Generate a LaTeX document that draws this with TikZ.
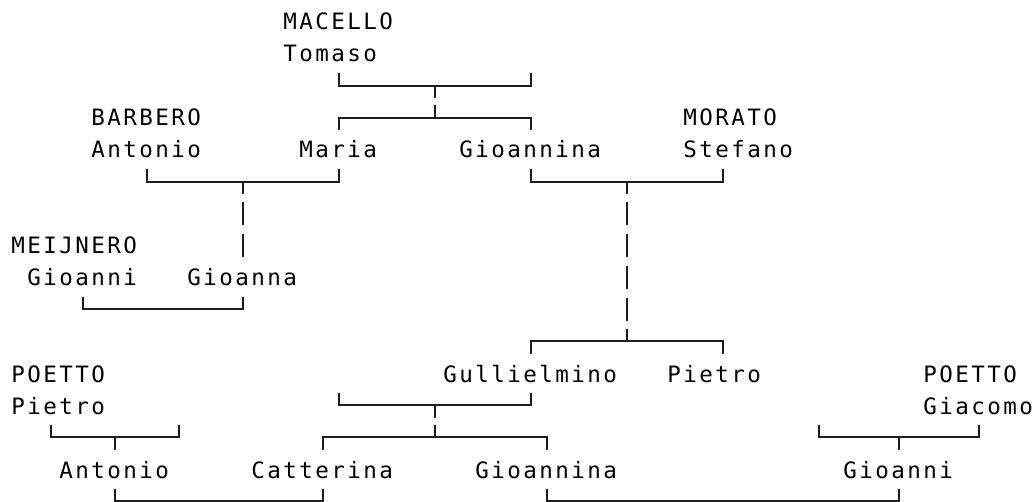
\documentclass[tikz,border=0pt]{standalone}
\usepackage{fontspec}
\newfontfamily\treefont{DejaVu Sans Mono}[LetterSpace=10.9]
\newcommand\nm[4]{\node[person] (#1) at ({11+16*#2},{29.6+32.05*#3}) {#4};}
\newcommand\kp[3]{\coordinate (#1) at ({19+16*#2},{21.8+31.95*#3});}
\newcommand\famup[2]{\draw[link] (#1) ++(0,-12.5) -- (#1) -- (#2) -- ++(0,-12.5);}
\newcommand\famdown[2]{\draw[link] (#1) ++(0,12.5) -- (#1) -- (#2) -- ++(0,12.5);}
\newcommand\stubdown[1]{\draw[link] (#1) -- ++(0,12.5);}
\newcommand\stubup[1]{\draw[link] (#1) -- ++(0,-12.5);}
\newcommand\trunk[1]{\draw[link] (#1) ++(0,-11.7) -- ++(0,23.4);}
\begin{document}
\begin{tikzpicture}[x=0.75pt,y=-0.75pt,
  person/.style={anchor=base west,inner sep=0pt,text=black,
    font=\treefont\fontsize{16.9pt}{16.9pt}\selectfont},
  link/.style={line width=1.5pt,draw=black!88,line join=miter}]
\useasboundingbox[fill=white] (0,0) rectangle (1036,502);
% names
\nm{mac}{17}{0}{MACELLO}
\nm{tom}{17}{1}{Tomaso}
\nm{bar}{5}{3}{BARBERO}
\nm{mor}{42}{3}{MORATO}
\nm{ant1}{5}{4}{Antonio}
\nm{mar}{18}{4}{Maria}
\nm{gna1}{28}{4}{Gioannina}
\nm{ste}{42}{4}{Stefano}
\nm{mei}{0}{7}{MEIJNERO}
\nm{gni1}{1}{8}{Gioanni}
\nm{gna}{11}{8}{Gioanna}
\nm{poe1}{0}{11}{POETTO}
\nm{gul}{27}{11}{Gullielmino}
\nm{pie2}{41}{11}{Pietro}
\nm{poe2}{57}{11}{POETTO}
\nm{pie1}{0}{12}{Pietro}
\nm{gia}{57}{12}{Giacomo}
\nm{ant2}{3}{14}{Antonio}
\nm{cat}{15}{14}{Catterina}
\nm{gna2}{29}{14}{Gioannina}
\nm{gni2}{52}{14}{Gioanni}
% Macello family
\kp{t1}{20}{2}\kp{t2}{32}{2}\kp{t3}{26}{2}
\kp{t4}{20}{3}\kp{t5}{32}{3}\kp{t6}{26}{3}
\famup{t1}{t2}\stubdown{t3}\famdown{t4}{t5}\stubup{t6}
% Barbero - Maria
\kp{b1}{8}{5}\kp{b2}{20}{5}\kp{b3}{14}{5}\kp{b4}{14}{6}\kp{b5}{14}{7}
\famup{b1}{b2}\stubdown{b3}\trunk{b4}\trunk{b5}
% Meijnero - Gioanna
\kp{m1}{4}{9}\kp{m2}{14}{9}
\famup{m1}{m2}
% Gioannina - Morato
\kp{g1}{32}{5}\kp{g2}{44}{5}\kp{g3}{38}{5}
\kp{g4}{38}{6}\kp{g5}{38}{7}\kp{g6}{38}{8}\kp{g7}{38}{9}
\kp{g8}{32}{10}\kp{g9}{44}{10}\kp{g10}{38}{10}
\famup{g1}{g2}\stubdown{g3}\trunk{g4}\trunk{g5}\trunk{g6}\trunk{g7}
\famdown{g8}{g9}\stubup{g10}
% Gullielmino family
\kp{u1}{20}{12}\kp{u2}{32}{12}\kp{u3}{26}{12}
\kp{u4}{19}{13}\kp{u5}{33}{13}\kp{u6}{26}{13}
\famup{u1}{u2}\stubdown{u3}\famdown{u4}{u5}\stubup{u6}
% Poetto Pietro
\kp{p1}{2}{13}\kp{p2}{10}{13}\kp{p3}{6}{13}
\famup{p1}{p2}\stubdown{p3}
% Poetto Giacomo
\kp{q1}{50}{13}\kp{q2}{60}{13}\kp{q3}{55}{13}
\famup{q1}{q2}\stubdown{q3}
% marriages
\kp{w1}{6}{15}\kp{w2}{19}{15}\kp{w3}{33}{15}\kp{w4}{55}{15}
\famup{w1}{w2}\famup{w3}{w4}
\end{tikzpicture}
\end{document}
